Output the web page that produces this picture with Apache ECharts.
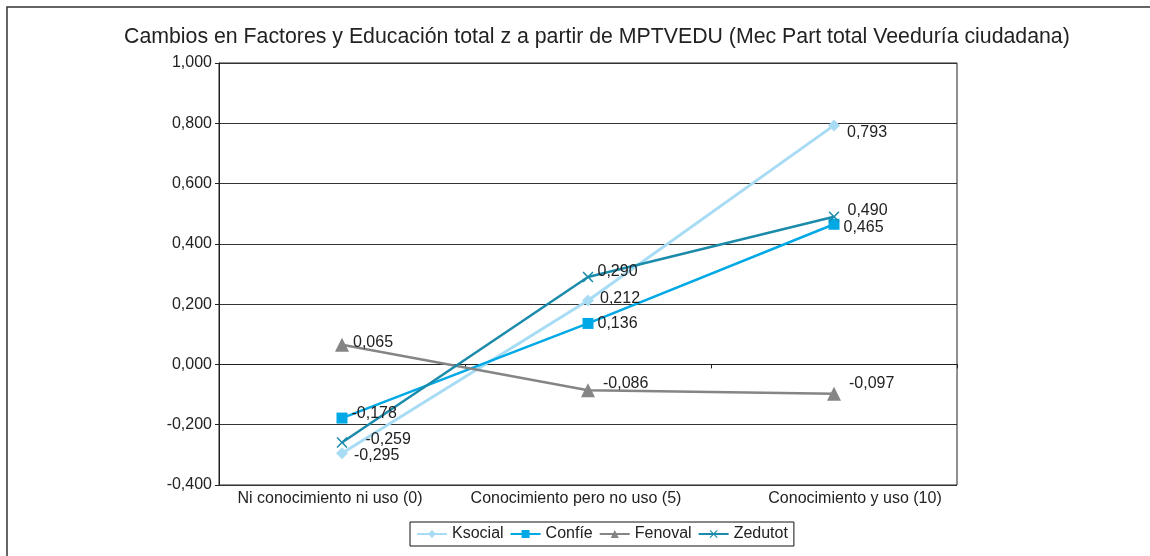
<!DOCTYPE html>
<html>
<head>
<meta charset="utf-8">
<script src="https://cdn.jsdelivr.net/npm/echarts@6/dist/echarts.min.js"></script>
<style>
    html, body {margin:0; padding:0; background:#fff;}
    #main {width:1150px; height:556px;}
</style>
</head>
<body>
<div id="main"></div>
<script>
// datos del gráfico
let categorias = ['Ni conocimiento ni uso (0)', 'Conocimiento pero no uso (5)', 'Conocimiento y uso (10)'];
let ksocial = [-0.295, 0.212, 0.793];
let confie = [-0.178, 0.136, 0.465];
let fenoval = [0.065, -0.086, -0.097];
let zedutot = [-0.259, 0.290, 0.490];
let yTicks = [-0.4, -0.2, 0, 0.2, 0.4, 0.6, 0.8, 1.0];

let chart = echarts.init(document.getElementById('main'));
let fuente = "'Liberation Sans', Arial, sans-serif";

// desplazamiento de las etiquetas, por serie y punto
let desplaz = {
    Ksocial: [[0, 2], [0, -2], [1, 7]],
    'Confíe': [[-2, -4], [-2, 0], [-2, 3]],
    Fenoval: [[-2, -2], [2, -7], [2, -10]],
    Zedutot: [[12, -3], [-2, -5], [2, -6]]
};

// estilo de cada etiqueta de categoría (un poco corridas como en Excel)
let estiloCat = ['izq', 'med', 'der'];

function fmt(v) {
    return v.toFixed(3).replace('.', ',');
}

function puntos(nombre, valores) {
    return valores.map(function (v, i) {
        return {value: v, label: {offset: desplaz[nombre][i]}};
    });
}

function serie(nombre, valores, color, simbolo, tam, ancho) {
    return {
        name: nombre,
        type: 'line',
        xAxisIndex: 0,
        data: puntos(nombre, valores),
        symbol: simbolo,
        symbolSize: tam,
        showAllSymbol: true,
        color: color,
        lineStyle: {width: ancho, color: color},
        itemStyle: {color: color},
        label: {
            show: true,
            position: 'right',
            distance: 6,
            fontFamily: fuente,
            fontSize: 16,
            color: '#222',
            formatter: function (p) { return fmt(p.value); }
        },
        emphasis: {disabled: true},
        animation: false
    };
}

let cruz = 'path://M0,1L1,0L5,4L9,0L10,1L6,5L10,9L9,10L5,6L1,10L0,9L4,5Z';
let catTxt = {fontFamily: fuente, fontSize: 16, color: '#222'};

let option = {
    title: {
        text: 'Cambios en Factores y Educación total z a partir de MPTVEDU (Mec Part total Veeduría ciudadana)',
        left: 119,
        top: 22,
        textStyle: {fontFamily: fuente, fontSize: 21.3, fontWeight: 'normal', color: '#222'}
    },
    graphic: [{
        type: 'rect',
        shape: {x: 7, y: 7, width: 1170, height: 570},
        style: {fill: 'none', stroke: '#333', lineWidth: 1.5},
        silent: true
    }],
    grid: {
        left: 219, top: 63, width: 738, height: 422,
        show: true, borderColor: '#222', borderWidth: 1
    },
    legend: {
        left: 410,
        top: 522,
        itemWidth: 30,
        itemHeight: 10,
        itemGap: 6,
        padding: [4, 6],
        borderColor: '#111',
        borderWidth: 1,
        textStyle: {fontFamily: fuente, fontSize: 16, color: '#222'},
        data: ['Ksocial', 'Confíe', 'Fenoval', 'Zedutot']
    },
    xAxis: [{
        type: 'category',
        data: categorias,
        position: 'bottom',
        axisLine: {show: false, onZero: false},
        axisTick: {show: false},
        axisLabel: {
            interval: 0,
            hideOverlap: false,
            margin: 6,
            fontFamily: fuente, fontSize: 16, color: '#222',
            formatter: function (v, i) { return '{' + estiloCat[i] + '|' + v + '}'; },
            rich: {
                izq: Object.assign({padding: [0, 24, 0, 0]}, catTxt),
                med: Object.assign({padding: [0, 24, 0, 0]}, catTxt),
                der: Object.assign({padding: [0, 0, 0, 42]}, catTxt)
            }
        },
        splitLine: {show: false}
    }, {
        type: 'category',
        data: categorias,
        position: 'bottom',
        axisLine: {show: true, onZero: true, lineStyle: {color: '#222', width: 1}},
        axisTick: {show: true, length: 4, lineStyle: {color: '#222'}},
        axisLabel: {show: false},
        splitLine: {show: false}
    }],
    yAxis: {
        type: 'value',
        min: yTicks[0],
        max: yTicks[yTicks.length - 1],
        interval: 0.2,
        axisLine: {show: true, lineStyle: {color: '#222'}},
        axisTick: {show: true, length: 4, lineStyle: {color: '#222'}},
        axisLabel: {
            fontFamily: fuente, fontSize: 16, color: '#222', margin: 7,
            formatter: function (v) { return fmt(v); }
        },
        splitLine: {show: true, lineStyle: {color: '#333', width: 1}}
    },
    series: [
        serie('Ksocial', ksocial, '#a8dcf4', 'diamond', 12, 3),
        serie('Confíe', confie, '#00a9e6', 'rect', 11, 2.5),
        serie('Fenoval', fenoval, '#858585', 'triangle', 14, 2.5),
        serie('Zedutot', zedutot, '#1b8bab', cruz, 11, 2.5)
    ]
};

chart.setOption(option);
window.addEventListener('resize', function () {chart.resize();});
</script>
</body>
</html>
